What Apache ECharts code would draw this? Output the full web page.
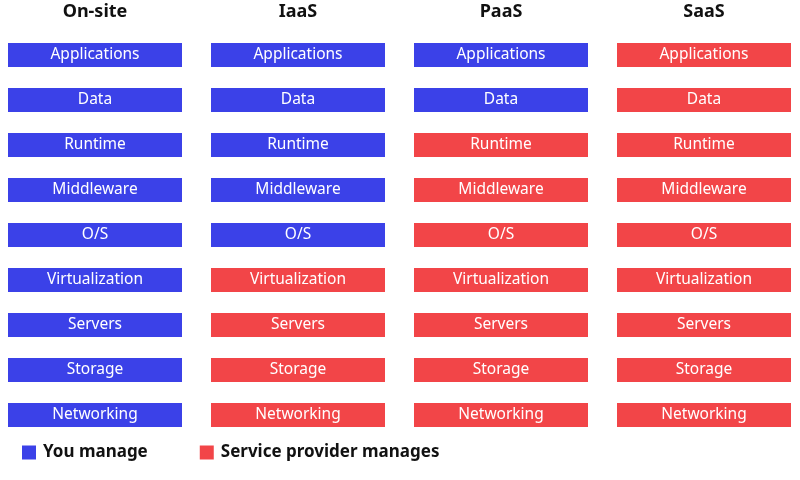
<!DOCTYPE html>
<html>
<head>
<meta charset="utf-8">
<script src="https://cdn.jsdelivr.net/npm/echarts@6/dist/echarts.min.js"></script>
<style>html,body{margin:0;padding:0;background:#fff}#main{width:800px;height:480px}</style>
</head>
<body>
<div id="main"></div>
<script>
var models = ['On-site', 'IaaS', 'PaaS', 'SaaS'];
var layers = ['Applications', 'Data', 'Runtime', 'Middleware', 'O/S', 'Virtualization', 'Servers', 'Storage', 'Networking'];
// number of layers (from the top) that you manage, per model
var youManageCount = [9, 5, 2, 0];

var BLUE = '#3b41e8', RED = '#f24548';
var FONT = '"Noto Sans", "Open Sans", sans-serif';

var youData = [], providerData = [];
models.forEach(function (m, c) {
    layers.forEach(function (l, r) {
        (r < youManageCount[c] ? youData : providerData).push([c, r, l]);
    });
});

function renderItem(params, api) {
    var p = api.coord([api.value(0), api.value(1)]);
    var w = 174, h = 24;
    return {
        type: 'rect',
        shape: { x: p[0] - w / 2, y: p[1] - h / 2, width: w, height: h },
        style: { fill: api.visual('color') },
        textContent: {
            style: { text: layers[api.value(1)], fill: '#fff', fontSize: 15.5, fontFamily: FONT }
        },
        textConfig: { position: 'inside' }
    };
}

var chart = echarts.init(document.getElementById('main'));
chart.setOption({
    animation: false,
    grid: { left: 0, right: 0, top: 0, bottom: 0 },
    xAxis: { type: 'value', min: -95 / 203, max: 705 / 203, show: false },
    yAxis: { type: 'value', inverse: true, min: -55 / 45, max: 425 / 45, show: false },
    graphic: models.map(function (m, i) {
        return {
            type: 'text', x: 95 + i * 203, y: 12,
            style: { text: m, fontSize: 18, fontWeight: 'bold', fontFamily: FONT, fill: '#111', align: 'center', verticalAlign: 'middle' }
        };
    }),
    legend: {
        left: 17, top: 439, itemWidth: 14, itemHeight: 14, itemGap: 52,
        icon: 'rect',
        textStyle: { fontSize: 17, fontWeight: 'bold', fontFamily: FONT, color: '#111', padding: [0, 0, 0, 2] },
        data: ['You manage', 'Service provider manages']
    },
    series: [
        { type: 'custom', name: 'You manage', color: BLUE, renderItem: renderItem, data: youData },
        { type: 'custom', name: 'Service provider manages', color: RED, renderItem: renderItem, data: providerData }
    ]
});
</script>
</body>
</html>
